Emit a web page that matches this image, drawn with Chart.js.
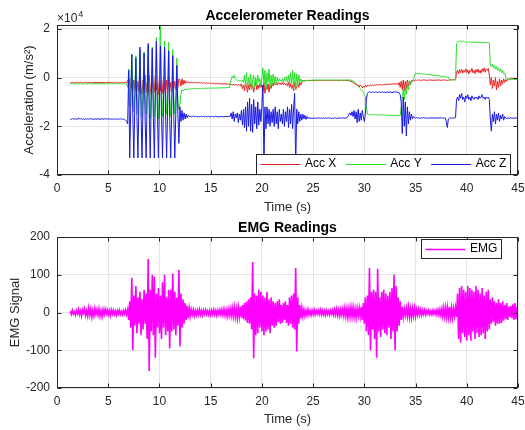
<!DOCTYPE html>
<html>
<head>
<meta charset="utf-8">
<title>Accelerometer and EMG Readings</title>
<script src="https://cdn.jsdelivr.net/npm/chart.js@4.4.1/dist/chart.umd.min.js"></script>
<style>
  html, body { margin: 0; padding: 0; background: #fff; }
  .panel { position: absolute; left: 0; width: 525px; height: 215px; }
  #acc-panel { top: 0; }
  #emg-panel { top: 215px; }
</style>
</head>
<body>
<div class="panel" id="acc-panel"><canvas id="acc-chart" width="525" height="215"></canvas></div>
<div class="panel" id="emg-panel"><canvas id="emg-chart" width="525" height="215"></canvas></div>
<script>
// Samples every 0.1 s, first one at 1.3 s (one row per second below)
const tStart = 1.3;
const tStep = 0.1;

// Tick labels
const timeTicks = [0, 5, 10, 15, 20, 25, 30, 35, 40, 45];
const accTicks = [-4, -2, 0, 2];       // x 10^4
const emgTicks = [-200, -100, 0, 100, 200];

// Accelerometer, in units of 10^4 m/s^2
const accX = [
  -0.2, -0.21, -0.19, -0.2, -0.22, -0.2, -0.19,
  -0.2, -0.21, -0.2, -0.19, -0.2, -0.22, -0.2, -0.21, -0.19, -0.2,
  -0.21, -0.2, -0.19, -0.2, -0.22, -0.2, -0.2, -0.21, -0.19, -0.2,
  -0.2, -0.22, -0.2, -0.19, -0.21, -0.2, -0.2, -0.22, -0.2, -0.19,
  -0.21, -0.2, -0.2, -0.19, -0.21, -0.2, -0.22, -0.2, -0.19, -0.2,
  -0.2, -0.21, -0.2, -0.19, -0.2, -0.21, -0.2, -0.19, -0.22, -0.1,
  -0.35, -0.05, -0.45, -0.2, -0.6, -0.1, -0.5, 0.0, -0.55, -0.15,
  -0.6, 0.05, -0.4, -0.7, -0.1, -0.5, 0.1, -0.6, -0.2, -0.65,
  0.1, -0.45, -0.7, 0.05, -0.3, -0.6, 0.1, -0.5, -0.2, -0.7,
  0.0, -0.55, -0.1, -0.65, 0.05, -0.4, -0.7, -0.1, -0.5, 0.0,
  -0.6, -0.2, -0.55, 0.0, -0.45, -0.15, -0.5, -0.1, -0.4, -0.05,
  -0.1, -0.35, -0.05, -0.3, -0.1, -0.25, -0.15, -0.22, -0.18, -0.2,
  -0.2, -0.18, -0.22, -0.2, -0.19, -0.21, -0.2, -0.22, -0.2, -0.21,
  -0.22, -0.2, -0.23, -0.21, -0.22, -0.24, -0.22, -0.23, -0.22, -0.24,
  -0.23, -0.25, -0.24, -0.23, -0.25, -0.26, -0.24, -0.25, -0.26, -0.25,
  -0.26, -0.25, -0.27, -0.26, -0.25, -0.27, -0.26, -0.28, -0.27, -0.26,
  -0.28, -0.3, -0.27, -0.32, -0.28, -0.3, -0.33, -0.28, -0.3, -0.35,
  -0.25, -0.45, -0.3, -0.55, -0.2, -0.4, -0.6, -0.3, -0.5, -0.25,
  -0.45, -0.3, -0.6, -0.35, -0.2, -0.5, -0.3, -0.45, -0.25, -0.4,
  -0.3, -0.55, -0.2, -0.65, -0.35, -0.5, -0.25, -0.6, -0.3, -0.45,
  -0.25, -0.35, -0.2, -0.3, -0.25, -0.3, -0.2, -0.28, -0.22, -0.3,
  -0.2, -0.28, -0.22, -0.3, -0.25, -0.35, -0.2, -0.4, -0.25, -0.45,
  -0.3, -0.55, -0.2, -0.5, -0.35, -0.25, -0.4, -0.2, -0.3, -0.18,
  -0.15, -0.12, -0.14, -0.12, -0.13, -0.11, -0.12, -0.13, -0.12, -0.11,
  -0.12, -0.13, -0.11, -0.12, -0.12, -0.13, -0.11, -0.12, -0.13, -0.12,
  -0.11, -0.12, -0.13, -0.12, -0.11, -0.12, -0.12, -0.13, -0.12, -0.11,
  -0.12, -0.13, -0.12, -0.11, -0.12, -0.13, -0.12, -0.12, -0.11, -0.12,
  -0.12, -0.11, -0.13, -0.12, -0.12, -0.13, -0.14, -0.15, -0.18, -0.2,
  -0.22, -0.28, -0.25, -0.32, -0.3, -0.38, -0.3, -0.35, -0.42, -0.35,
  -0.4, -0.32, -0.38, -0.3, -0.35, -0.32, -0.3, -0.34, -0.31, -0.33,
  -0.3, -0.32, -0.29, -0.31, -0.3, -0.28, -0.3, -0.29, -0.31, -0.28,
  -0.28, -0.3, -0.27, -0.29, -0.26, -0.28, -0.27, -0.25, -0.27, -0.26,
  -0.25, -0.27, -0.24, -0.3, -0.2, -0.4, -0.15, -0.5, -0.1, -0.55,
  -0.15, -0.45, -0.1, -0.35, -0.15, -0.25, -0.12, -0.18, -0.1, -0.12,
  -0.1, -0.12, -0.09, -0.11, -0.1, -0.12, -0.1, -0.11, -0.09, -0.1,
  -0.11, -0.1, -0.12, -0.1, -0.09, -0.11, -0.1, -0.12, -0.1, -0.11,
  -0.1, -0.11, -0.09, -0.1, -0.12, -0.1, -0.11, -0.1, -0.09, -0.11,
  -0.1, -0.12, -0.11, -0.1, -0.09, -0.08, -0.1, -0.09, -0.08, -0.1,
  0.2, 0.3, 0.15, 0.32, 0.2, 0.35, 0.18, 0.3, 0.22, 0.36,
  0.2, 0.32, 0.15, 0.3, 0.25, 0.38, 0.2, 0.3, 0.16, 0.33,
  0.22, 0.35, 0.2, 0.3, 0.18, 0.36, 0.25, 0.4, 0.22, 0.35,
  0.3, 0.38, 0.1, -0.3, 0.0, -0.45, -0.1, -0.35, 0.0, -0.5,
  -0.15, -0.4, -0.05, -0.35, -0.1, -0.25, -0.05, -0.2, -0.08, -0.15,
  -0.05, -0.08, -0.03, -0.06, -0.02, -0.05, -0.04, -0.02, -0.05, -0.03,
  -0.04
];

const accY = [
  -0.25, -0.26, -0.24, -0.25, -0.27, -0.25, -0.24,
  -0.25, -0.26, -0.25, -0.24, -0.26, -0.25, -0.27, -0.25, -0.24, -0.26,
  -0.25, -0.24, -0.26, -0.25, -0.25, -0.27, -0.25, -0.24, -0.25, -0.26,
  -0.24, -0.25, -0.26, -0.25, -0.24, -0.25, -0.26, -0.25, -0.27, -0.25,
  -0.25, -0.24, -0.26, -0.25, -0.25, -0.24, -0.26, -0.25, -0.24, -0.25,
  -0.26, -0.25, -0.24, -0.25, -0.26, -0.25, -0.24, -0.25, -0.3, -0.4,
  0.35, -1.2, -0.5, 0.95, -0.4, -1.4, -0.6, 0.9, -0.5, -1.5,
  -0.7, 1.1, -0.6, -1.6, -0.5, 1.05, -0.7, -1.5, -0.4, 1.3,
  -0.6, -1.7, -0.5, 1.25, -0.7, -1.6, -0.4, 1.65, -0.6, -1.7,
  -0.3, 2.2, -0.5, -1.6, -0.4, 1.5, -0.6, -1.5, -0.5, 1.45,
  -0.7, -1.6, -0.6, 1.15, -0.8, -1.5, -0.7, 0.8, -0.9, -1.3,
  -1.1, -0.7, -0.5, -0.55, -0.5, -0.48, -0.5, -0.47, -0.48, -0.46,
  -0.47, -0.46, -0.45, -0.46, -0.45, -0.44, -0.46, -0.45, -0.44, -0.45,
  -0.44, -0.45, -0.44, -0.43, -0.45, -0.44, -0.43, -0.44, -0.43, -0.44,
  -0.43, -0.44, -0.42, -0.43, -0.44, -0.42, -0.43, -0.42, -0.43, -0.42,
  -0.42, -0.43, -0.41, -0.42, -0.43, -0.41, -0.42, -0.4, -0.42, -0.3,
  -0.1, 0.05, -0.02, 0.1, -0.05, -0.08, -0.12, -0.1, -0.15, -0.12,
  -0.15, -0.1, -0.2, 0.1, -0.3, 0.2, -0.45, 0.0, -0.35, 0.15,
  -0.5, -0.1, 0.1, -0.4, 0.0, -0.3, 0.1, -0.2, -0.05, -0.35,
  0.0, 0.4, -0.3, 0.3, -0.5, 0.2, -0.2, 0.35, -0.4, 0.1,
  -0.3, 0.15, -0.2, 0.05, -0.25, 0.0, -0.15, -0.05, -0.1, -0.15,
  -0.05, -0.2, 0.0, -0.15, 0.05, -0.2, 0.1, -0.3, 0.2, -0.25,
  0.3, -0.4, 0.2, -0.5, 0.15, -0.3, 0.1, -0.2, -0.05, -0.15,
  -0.1, -0.15, -0.12, -0.1, -0.13, -0.11, -0.12, -0.1, -0.12, -0.11,
  -0.1, -0.11, -0.1, -0.09, -0.1, -0.11, -0.1, -0.1, -0.09, -0.1,
  -0.11, -0.1, -0.09, -0.1, -0.11, -0.1, -0.1, -0.09, -0.1, -0.11,
  -0.1, -0.09, -0.1, -0.11, -0.1, -0.1, -0.09, -0.1, -0.11, -0.1,
  -0.1, -0.11, -0.1, -0.1, -0.09, -0.1, -0.11, -0.1, -0.12, -0.15,
  -0.15, -0.2, -0.25, -0.3, -0.35, -0.4, -0.45, -0.5, -0.55, -0.6,
  -0.7, -0.8, -1.2, -1.5, -1.52, -1.53, -1.52, -1.54, -1.53, -1.52,
  -1.53, -1.52, -1.54, -1.53, -1.52, -1.54, -1.53, -1.54, -1.53, -1.54,
  -1.54, -1.55, -1.54, -1.53, -1.55, -1.54, -1.55, -1.56, -1.55, -1.54,
  -1.56, -1.55, -1.57, -1.56, -1.55, -1.56, -1.2, -0.8, -0.5, -0.9,
  -0.4, -0.7, -0.3, -0.5, -0.2, -0.3, -0.1, -0.15, -0.05, 0.05,
  0.18, 0.17, 0.18, 0.16, 0.17, 0.15, 0.16, 0.15, 0.14, 0.15,
  0.13, 0.14, 0.12, 0.13, 0.11, 0.12, 0.1, 0.11, 0.09, 0.1,
  0.08, 0.09, 0.07, 0.08, 0.06, 0.05, 0.06, 0.04, 0.05, 0.03,
  0.02, 0.03, 0.01, -0.08, -0.1, -0.09, -0.1, -0.08, -0.09, -0.1,
  1.4, 1.45, 1.5, 1.47, 1.52, 1.48, 1.46, 1.5, 1.47, 1.45,
  1.47, 1.44, 1.48, 1.45, 1.46, 1.43, 1.47, 1.45, 1.44, 1.46,
  1.45, 1.43, 1.46, 1.44, 1.45, 1.42, 1.44, 1.45, 1.43, 1.44,
  1.43, 1.44, 1.42, 0.5, 0.45, 0.55, 0.4, 0.5, 0.35, 0.45,
  0.3, 0.4, 0.25, 0.35, 0.2, 0.3, 0.15, 0.2, 0.0, -0.05,
  -0.08, -0.07, -0.09, -0.08, -0.07, -0.09, -0.08, -0.07, -0.08, -0.08,
  -0.07
];

const accZ = [
  -1.7, -1.72, -1.68, -1.7, -1.71, -1.69, -1.7,
  -1.72, -1.66, -1.69, -1.7, -1.68, -1.71, -1.7, -1.72, -1.69, -1.7,
  -1.7, -1.71, -1.68, -1.7, -1.69, -1.72, -1.7, -1.69, -1.71, -1.7,
  -1.69, -1.7, -1.72, -1.7, -1.69, -1.71, -1.7, -1.68, -1.7, -1.71,
  -1.7, -1.69, -1.71, -1.7, -1.72, -1.7, -1.69, -1.71, -1.7, -1.7,
  -1.71, -1.7, -1.69, -1.7, -1.72, -1.7, -1.71, -1.75, -1.8, -1.9,
  0.3, -3.3, -1.2, 0.95, -1.5, -3.3, -1.0, 0.8, -1.6, -3.3,
  -0.9, 1.25, -1.4, -3.3, -1.1, 1.0, -1.7, -3.3, -0.8, 1.4,
  -1.3, -3.3, -1.0, 1.2, -1.5, -3.3, -0.9, 1.5, -1.4, -3.3,
  -1.0, 1.3, -1.6, -3.3, -1.1, 1.25, -1.5, -3.3, -1.2, 1.1,
  -1.7, -3.3, -1.3, 0.9, -1.6, -3.3, -1.4, 0.5, -1.5, -2.7,
  -1.2, -1.8, -1.35, -1.75, -1.45, -1.7, -1.5, -1.65, -1.55, -1.6,
  -1.58, -1.62, -1.6, -1.57, -1.61, -1.6, -1.59, -1.62, -1.6, -1.61,
  -1.6, -1.58, -1.61, -1.6, -1.62, -1.59, -1.6, -1.61, -1.59, -1.6,
  -1.61, -1.6, -1.59, -1.62, -1.6, -1.58, -1.61, -1.6, -1.62, -1.6,
  -1.59, -1.61, -1.6, -1.62, -1.6, -1.59, -1.61, -1.6, -1.58, -1.6,
  -1.45, -1.7, -1.4, -1.8, -1.5, -1.65, -1.45, -1.85, -1.5, -1.75,
  -1.35, -1.95, -1.3, -2.05, -1.2, -2.2, -1.0, -2.0, -0.85, -2.2,
  -1.1, -2.25, -0.9, -1.9, -1.2, -2.1, -1.0, -1.95, -1.3, -1.8,
  -1.2, -0.3, -3.7, -1.2, -2.1, -1.2, -1.9, -1.3, -2.0, -1.4,
  -1.85, -1.3, -2.0, -1.2, -1.9, -1.4, -2.1, -1.3, -1.8, -1.5,
  -1.9, -1.3, -2.0, -1.4, -1.8, -1.2, -2.05, -1.3, -1.9, -1.1,
  -2.1, -1.2, -0.65, -3.7, -1.3, -1.9, -1.4, -1.8, -1.5, -1.75,
  -1.5, -1.7, -1.55, -1.72, -1.6, -1.68, -1.65, -1.67, -1.66, -1.68,
  -1.67, -1.65, -1.68, -1.66, -1.67, -1.65, -1.66, -1.68, -1.66, -1.67,
  -1.66, -1.68, -1.65, -1.67, -1.66, -1.65, -1.67, -1.66, -1.68, -1.66,
  -1.67, -1.65, -1.66, -1.68, -1.66, -1.67, -1.65, -1.66, -1.67, -1.66,
  -1.65, -1.67, -1.66, -1.64, -1.6, -1.5, -1.45, -1.55, -1.4, -1.6,
  -1.35, -1.7, -1.4, -1.85, -1.3, -1.8, -1.45, -1.75, -1.35, -1.6,
  -1.8, -1.5, -0.9, -0.65, -0.6, -0.58, -0.6, -0.62, -0.59, -0.6,
  -0.61, -0.59, -0.6, -0.62, -0.6, -0.58, -0.61, -0.6, -0.59, -0.61,
  -0.6, -0.62, -0.59, -0.6, -0.61, -0.58, -0.6, -0.62, -0.6, -0.59,
  -0.6, -0.58, -0.61, -0.6, -0.62, -0.7, -1.0, -2.3, -0.8, -2.0,
  -1.0, -2.4, -1.2, -1.9, -1.4, -1.75, -1.5, -1.7, -1.6, -1.65,
  -1.66, -1.64, -1.67, -1.65, -1.66, -1.68, -1.65, -1.66, -1.64, -1.67,
  -1.65, -1.66, -1.68, -1.65, -1.67, -1.66, -1.64, -1.66, -1.67, -1.65,
  -1.66, -1.67, -1.65, -1.66, -1.64, -1.66, -1.67, -1.65, -1.66, -1.66,
  -1.8, -2.05, -1.7, -1.66, -1.65, -1.67, -1.66, -1.65, -1.66, -1.65,
  -0.9, -0.8, -0.95, -0.7, -0.85, -0.65, -0.9, -0.8, -1.0, -0.75,
  -0.85, -0.7, -0.9, -0.8, -0.95, -0.75, -0.85, -0.9, -0.8, -0.85,
  -0.8, -0.9, -0.75, -0.85, -0.8, -0.7, -0.85, -0.8, -0.9, -0.8,
  -0.85, -0.8, -0.9, -1.7, -2.2, -1.5, -1.8, -1.4, -1.9, -1.5,
  -1.75, -1.45, -1.8, -1.55, -1.7, -1.5, -1.75, -1.6, -1.65, -1.7,
  -1.64, -1.68, -1.66, -1.65, -1.67, -1.66, -1.68, -1.65, -1.66, -1.67,
  -1.66
];

// EMG signal
const emg = [
  3, -5, 6, -4, 2, -7, 5,
  -3, 8, -6, 4, -9, 7, -2, 10, -8, 5,
  -10, 12, -7, 9, -12, 6, -9, 11, -5, 8,
  -7, 10, -9, 5, -11, 8, -6, 9, -4, 7,
  -6, 5, -8, 7, -4, 6, -5, 4, -7, 5,
  -4, 6, -5, 3, -6, 5, -4, 7, -5, 8,
  -20, 30, -40, 92, -100, 45, -35, 70, -55, 40,
  -30, 55, -60, 35, -45, 60, -30, 50, -70, 142,
  -155, 60, -50, 100, -60, 95, -120, 50, -40, 65,
  -55, 45, -70, 80, -40, 100, -60, 40, -50, 60,
  -95, 60, -50, 103, -45, 55, -60, 40, -35, 113,
  -90, 50, -40, 35, -30, 25, -20, 18, -15, 12,
  -10, 8, -6, 7, -9, 5, -7, 6, -5, 8,
  -6, 5, -7, 6, -4, 7, -5, 4, -6, 5,
  -7, 6, -5, 7, -6, 5, -8, 6, -5, 7,
  -6, 8, -7, 9, -8, 7, -10, 9, -8, 10,
  -9, 12, -10, 14, -12, 10, -15, 13, -11, 16,
  -14, 20, -18, 25, -22, 30, -28, 35, -30, 40,
  -45, 134, -121, 50, -60, 45, -55, 60, -40, 55,
  -50, 45, -60, 40, -50, 55, -45, 35, -55, 40,
  -35, 30, -40, 25, -35, 30, -25, 35, -30, 20,
  -28, 25, -20, 30, -28, 20, -35, 40, -30, 45,
  -40, 50, -45, 118, -103, 40, -30, 20, -15, 12,
  -10, 8, -9, 6, -7, 8, -6, 5, -7, 6,
  -5, 7, -6, 5, -4, 6, -5, 7, -6, 5,
  -6, 5, -7, 6, -5, 4, -6, 5, -4, 6,
  -7, 8, -6, 9, -8, 7, -9, 8, -7, 10,
  -9, 12, -10, 11, -13, 10, -12, 14, -11, 13,
  -12, 10, -14, 11, -9, 12, -10, 15, -20, 25,
  -30, 40, -50, 45, -60, 118, -100, 55, -45, 60,
  -70, 55, -120, 116, -50, 40, -65, 55, -45, 60,
  -55, 50, -60, 45, -40, 55, -70, 65, -50, 100,
  -100, 70, -50, 40, -35, 30, -20, 15, -12, 10,
  -8, 12, -10, 14, -12, 10, -13, 11, -9, 12,
  -10, 8, -7, 9, -6, 8, -7, 6, -5, 7,
  -6, 5, -4, 6, -5, 4, -5, 6, -4, 5,
  -6, 7, -6, 8, -7, 9, -10, 12, -11, 13,
  -12, 14, -12, 15, -13, 12, -14, 11, -10, 13,
  -12, 50, -70, 65, -80, 70, -55, 60, -65, 55,
  -75, 70, -60, 65, -75, 60, -50, 55, -70, 70,
  -55, 60, -65, 50, -60, 65, -55, 45, -70, 55,
  -50, 60, -45, 35, -30, 40, -25, 30, -35, 25,
  -30, 35, -30, 25, -28, 30, -22, 20, -18, 25,
  -20, 15, -12, 18, -15, 22, -20, 25, -18, 15,
  -12
];

const fontFamily = '"Liberation Sans", Arial, Helvetica, sans-serif';
const axisColor = '#262626';
const gridColor = '#e3e3e3';

Chart.defaults.font.family = fontFamily;
Chart.defaults.font.size = 12;
Chart.defaults.color = axisColor;

function toPoints(values) {
    return values.map((v, i) => ({ x: Math.round((tStart + i * tStep) * 10) / 10, y: v }));
}

// MATLAB style box, inward ticks, title, exponent label and legend
const matlabAxes = {
    id: 'matlabAxes',
    afterDatasetsDraw(chart, args, opts) {
        const ctx = chart.ctx;
        const a = chart.chartArea;
        const xs = chart.scales.x;
        const ys = chart.scales.y;
        const L = Math.round(a.left) + 0.5;
        const R = Math.round(a.right) - 0.5;
        const T = Math.round(a.top) + 0.5;
        const B = Math.round(a.bottom) - 0.5;

        ctx.save();
        ctx.strokeStyle = axisColor;
        ctx.lineWidth = 1;
        ctx.beginPath();
        xs.ticks.forEach(t => {
            const px = Math.round(xs.getPixelForValue(t.value)) + 0.5;
            ctx.moveTo(px, B); ctx.lineTo(px, B - 4);
            ctx.moveTo(px, T); ctx.lineTo(px, T + 4);
        });
        ys.ticks.forEach(t => {
            const py = Math.round(ys.getPixelForValue(t.value)) + 0.5;
            ctx.moveTo(L, py); ctx.lineTo(L + 4, py);
            ctx.moveTo(R, py); ctx.lineTo(R - 4, py);
        });
        ctx.stroke();
        ctx.strokeRect(L, T, R - L, B - T);

        // title
        ctx.fillStyle = '#000';
        ctx.font = 'bold 14px ' + fontFamily;
        ctx.textAlign = 'center';
        ctx.textBaseline = 'alphabetic';
        ctx.fillText(opts.title, (a.left + a.right) / 2, opts.titleY);

        // axis exponent
        if (opts.exponent) {
            ctx.fillStyle = axisColor;
            ctx.textAlign = 'left';
            ctx.font = '12px ' + fontFamily;
            ctx.fillText('\u00d710', a.left, opts.exponentY);
            const w = ctx.measureText('\u00d710').width;
            ctx.font = '9px ' + fontFamily;
            ctx.fillText(opts.exponent, a.left + w + 1, opts.exponentY - 5);
        }

        // legend
        const lg = opts.legend;
        const pad = 4, lineLen = 40, gap = 4.5, itemGap = 9.5;
        ctx.font = '12px ' + fontFamily;
        const items = chart.data.datasets.map(ds => ({
            label: ds.label, color: ds.borderColor, lw: ds.borderWidth || 1,
            w: ctx.measureText(ds.label).width
        }));
        let boxW = pad * 2;
        items.forEach((it, i) => { boxW += lineLen + gap + it.w + (i > 0 ? itemGap : 0); });
        const bx = Math.round(lg.right - boxW) + 0.5;
        const by = lg.top + 0.5;
        ctx.fillStyle = '#fff';
        ctx.fillRect(bx, by, boxW, lg.height);
        ctx.strokeStyle = axisColor;
        ctx.lineWidth = 1;
        ctx.strokeRect(bx, by, Math.round(boxW), lg.height);
        const cy = lg.top + lg.height / 2;
        let cx = bx + pad;
        ctx.textBaseline = 'middle';
        ctx.textAlign = 'left';
        items.forEach(it => {
            ctx.strokeStyle = it.color;
            ctx.lineWidth = it.lw;
            ctx.beginPath();
            ctx.moveTo(cx, Math.round(cy) + 0.5);
            ctx.lineTo(cx + lineLen, Math.round(cy) + 0.5);
            ctx.stroke();
            ctx.fillStyle = '#000';
            ctx.fillText(it.label, cx + lineLen + gap, cy);
            cx += lineLen + gap + it.w + itemGap;
        });
        ctx.restore();
    }
};

function makeOptions(cfg) {
    return {
        responsive: false,
        animation: false,
        devicePixelRatio: 1,
        layout: { padding: cfg.padding },
        plugins: {
            legend: { display: false },
            tooltip: { enabled: false },
            matlabAxes: cfg.decor
        },
        elements: { point: { radius: 0 }, line: { borderWidth: 1, tension: 0 } },
        scales: {
            x: {
                type: 'linear',
                min: 0,
                max: 45,
                afterBuildTicks: s => { s.ticks = timeTicks.map(v => ({ value: v })); },
                afterFit: s => { s.height = cfg.xHeight; s.paddingLeft = 0; s.paddingRight = 0; },
                grid: { color: gridColor, drawTicks: false },
                border: { display: false },
                ticks: { padding: 6, color: axisColor, maxRotation: 0, autoSkip: false },
                title: {
                    display: true, text: 'Time (s)', color: axisColor,
                    font: { size: 13 }, padding: { top: 0, bottom: cfg.xTitlePad }
                }
            },
            y: {
                type: 'linear',
                min: cfg.yMin,
                max: cfg.yMax,
                afterBuildTicks: s => { s.ticks = cfg.yTicks.map(v => ({ value: v })); },
                afterFit: s => { s.width = 57; s.paddingTop = 0; s.paddingBottom = 0; },
                grid: { color: gridColor, drawTicks: false },
                border: { display: false },
                ticks: { padding: 7, color: axisColor, autoSkip: false },
                title: {
                    display: true, text: cfg.yTitle, color: axisColor,
                    font: { size: 13 }, padding: { top: cfg.yTitlePad, bottom: 0 }
                }
            }
        }
    };
}

function createCharts() {
    const accCtx = document.getElementById('acc-chart').getContext('2d');
    new Chart(accCtx, {
        type: 'line',
        data: {
            datasets: [
                { label: 'Acc X', data: toPoints(accX), borderColor: 'rgb(232, 32, 32)', borderWidth: 1, order: 3 },
                { label: 'Acc Y', data: toPoints(accY), borderColor: 'rgb(40, 222, 40)', borderWidth: 1, order: 2 },
                { label: 'Acc Z', data: toPoints(accZ), borderColor: 'rgb(24, 24, 228)', borderWidth: 1, order: 1 }
            ]
        },
        options: makeOptions({
            padding: { top: 25, right: 7, bottom: 0, left: 0 },
            xHeight: 40,
            xTitlePad: 0,
            yMin: -4,
            yMax: 2.16,
            yTicks: accTicks,
            yTitle: 'Acceleration (m/s\u00b2)',
            yTitlePad: 22,
            decor: {
                title: 'Accelerometer Readings', titleY: 19.5,
                exponent: '4', exponentY: 22,
                legend: { right: 510, top: 154, height: 20 }
            }
        }),
        plugins: [matlabAxes]
    });

    const emgCtx = document.getElementById('emg-chart').getContext('2d');
    new Chart(emgCtx, {
        type: 'line',
        data: {
            datasets: [
                { label: 'EMG', data: toPoints(emg), borderColor: 'rgb(255, 0, 255)', borderWidth: 1.6 }
            ]
        },
        options: makeOptions({
            padding: { top: 22, right: 7, bottom: 3, left: 0 },
            xHeight: 39,
            xTitlePad: 0,
            yMin: -200,
            yMax: 200,
            yTicks: emgTicks,
            yTitle: 'EMG Signal',
            yTitlePad: 7.7,
            decor: {
                title: 'EMG Readings', titleY: 16.5,
                legend: { right: 501, top: 24, height: 19 }
            }
        }),
        plugins: [matlabAxes]
    });
}

createCharts();
</script>
</body>
</html>
